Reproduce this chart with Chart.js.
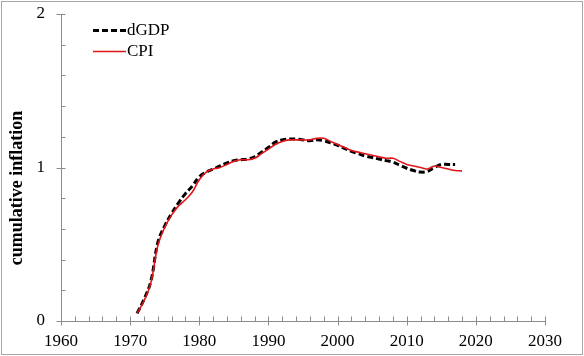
<!DOCTYPE html>
<html><head><meta charset="utf-8">
<script src="https://cdn.jsdelivr.net/npm/chart.js@4/dist/chart.umd.min.js"></script>
<style>html,body{margin:0;padding:0;background:#fff}#wrap{width:584px;height:356px}</style>
</head><body><div id="wrap"><canvas id="c" width="584" height="356"></canvas></div>
<script>
const years = [1971,1972,1973,1974,1975,1976,1977,1978,1979,1980,1981,1982,1983,1984,1985,1986,1987,1988,1989,1990,1991,1992,1993,1994,1995,1996,1997,1998,1999,2000,2001,2002,2003,2004,2005,2006,2007,2008,2009,2010,2011,2012,2013,2014,2015,2016,2017,2018];
const dGDP = [0.05,0.14,0.26,0.51,0.62,0.70,0.77,0.83,0.88,0.94,0.97,0.99,1.01,1.03,1.045,1.05,1.055,1.07,1.10,1.13,1.165,1.18,1.185,1.185,1.18,1.175,1.18,1.175,1.16,1.145,1.125,1.105,1.09,1.075,1.065,1.055,1.045,1.035,1.015,0.995,0.98,0.97,0.975,1.00,1.02,1.02,1.02,null];
const CPI  = [0.05,0.13,0.25,0.49,0.61,0.69,0.75,0.79,0.84,0.92,0.97,0.99,1.00,1.02,1.04,1.05,1.05,1.06,1.09,1.12,1.15,1.17,1.18,1.18,1.18,1.18,1.19,1.19,1.17,1.15,1.13,1.11,1.10,1.09,1.08,1.07,1.06,1.06,1.04,1.02,1.01,1.00,0.99,1.01,1.00,0.99,0.98,0.978];
const xTickLabels = [1960,1970,1980,1990,2000,2010,2020,2030];
const yTickLabels = [0,1,2];
const yTitle = 'cumulative inflation';
const FONT = "'Liberation Serif','DejaVu Serif',serif";

const toPts = arr => years.map((y,i)=>({x:y,y:arr[i]})).filter(p=>p.y!==null);

const frame = {
  id:'frame',
  beforeDraw(chart){
    const ctx=chart.ctx; ctx.save();
    ctx.fillStyle='#fff'; ctx.fillRect(0,0,chart.width,chart.height);
    ctx.strokeStyle='#a6a6a6'; ctx.lineWidth=1;
    ctx.strokeRect(1.5,1.5,chart.width-3,chart.height-3);
    ctx.restore();
  },
  afterDraw(chart){
    const ctx=chart.ctx, xs=chart.scales.x, ys=chart.scales.y;
    ctx.save(); ctx.strokeStyle='#8c8c8c'; ctx.lineWidth=1;
    const ax=Math.round(xs.left)+0.5, ay=Math.round(ys.bottom)+0.5;
    ctx.beginPath();
    ctx.moveTo(ax,ys.top); ctx.lineTo(ax,ay);
    ctx.lineTo(xs.right,ay);
    for(let v=1960; v<=2030; v+=2){
      const px=Math.round(xs.getPixelForValue(v))+0.5;
      const major = v%10===0;
      ctx.moveTo(px, major? ay+4: ay); ctx.lineTo(px, ay-5);
    }
    for(let k=0;k<=10;k++){
      const v=k*0.2;
      const py=Math.round(ys.getPixelForValue(v))+0.5;
      const major = k%5===0;
      ctx.moveTo(major? ax-5: ax, py); ctx.lineTo(ax+4, py);
    }
    ctx.stroke();
    // y title
    ctx.save();
    ctx.translate(17,188); ctx.rotate(-Math.PI/2);
    ctx.font="bold 18px "+FONT; ctx.fillStyle='#000'; ctx.textAlign='center'; ctx.textBaseline='middle';
    ctx.fillText(yTitle,0,0);
    ctx.restore();
    // legend
    const items=[{ds:chart.data.datasets[0],y:30.5},{ds:chart.data.datasets[1],y:51.5}];
    ctx.font="17px "+FONT; ctx.textBaseline='middle'; ctx.fillStyle='#000';
    items.forEach(it=>{
      ctx.beginPath();
      ctx.strokeStyle=it.ds.borderColor; ctx.lineWidth=it.ds.borderWidth;
      ctx.setLineDash(it.ds.borderDash||[]);
      ctx.moveTo(93,it.y); ctx.lineTo(126,it.y); ctx.stroke();
      ctx.setLineDash([]);
      ctx.fillText(it.ds.label,127,it.y);
    });
    ctx.restore();
  }
};

new Chart(document.getElementById('c'),{
  type:'line',
  data:{datasets:[
    {label:'dGDP',data:toPts(dGDP),borderColor:'#000',borderWidth:3,borderDash:[6,3],pointRadius:0,tension:0.4,fill:false,order:2},
    {label:'CPI',data:toPts(CPI),borderColor:'#e0161b',borderWidth:1.6,pointRadius:0,tension:0.4,fill:false,order:1}
  ]},
  options:{
    responsive:false,animation:false,
    layout:{padding:{left:0,right:39,top:14,bottom:0}},
    plugins:{legend:{display:false},tooltip:{enabled:false}},
    scales:{
      x:{type:'linear',min:1960,max:2030,
        afterFit(s){s.height=35;s.paddingLeft=0;s.paddingRight=0;},
        afterBuildTicks(s){s.ticks=xTickLabels.map(v=>({value:v}));},
        grid:{display:false,drawTicks:false},border:{display:false},
        ticks:{font:{family:FONT,size:17},color:'#000',padding:10,maxRotation:0,autoSkip:false,callback:v=>String(v)}
      },
      y:{min:0,max:2,
        afterFit(s){s.width=61;s.paddingTop=0;s.paddingBottom=0;},
        afterBuildTicks(s){s.ticks=yTickLabels.map(v=>({value:v}));},
        grid:{display:false,drawTicks:false},border:{display:false},
        ticks:{font:{family:FONT,size:17},color:'#000',padding:16,autoSkip:false,callback:v=>String(v)}
      }
    }
  },
  plugins:[frame]
});
</script></body></html>
